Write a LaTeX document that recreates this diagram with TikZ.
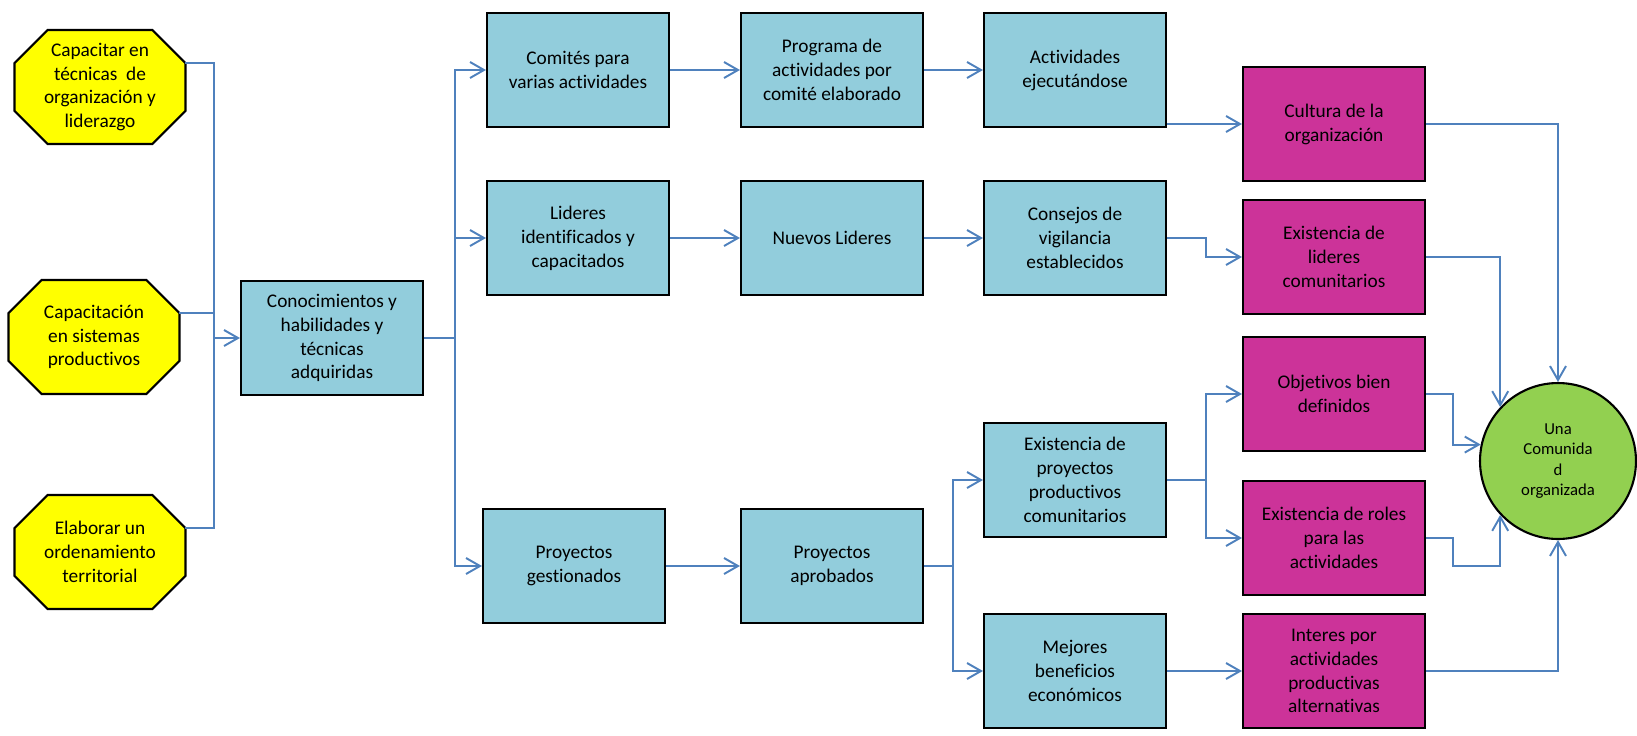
\documentclass[tikz,border=0pt]{standalone}
\usepackage{fontspec}
\setmainfont{Carlito}[Ligatures=NoCommon]
\usepackage{tikz}
\usetikzlibrary{shapes,arrows.meta,positioning,calc,backgrounds}

\definecolor{metayellow}{HTML}{FFFF00}
\definecolor{resblue}{HTML}{92CDDC}
\definecolor{effmagenta}{HTML}{CC3399}
\definecolor{goalgreen}{HTML}{92D050}
\definecolor{linkblue}{HTML}{4F81BD}

\tikzset{
    base/.style={draw=black, line width=1.2pt, align=center, inner sep=2pt,
        font=\fontsize{11}{13.6}\selectfont},
    activity/.style={align=center, inner sep=2pt, outer sep=0pt, minimum width=3.42cm,
        minimum height=2.28cm, font=\fontsize{11}{13.6}\selectfont},
    result/.style={base, rectangle, fill=resblue, minimum width=3.64cm, minimum height=2.28cm},
    effect/.style={result, fill=effmagenta},
    goal/.style={base, circle, fill=goalgreen, minimum size=3.12cm,
        font=\fontsize{9.5}{11.6}\selectfont},
    link/.style={draw=linkblue, line width=1.1pt},
    arr/.style={link, -{Straight Barb[length=2.8mm, width=3.2mm]}}
}

\begin{document}
\begin{tikzpicture}[x=0.02cm, y=-0.02cm]
    \useasboundingbox (0,0) rectangle (1637,735);

    % Activities
    \node[activity] (o1) at (100,87) {Capacitar en\\técnicas \ de\\organización y\\liderazgo};
    \node[activity] (o2) at (94,337) {Capacitación\\en sistemas\\productivos};
    \node[activity] (o3) at (100,552) {Elaborar un\\ordenamiento\\territorial};
    \begin{scope}[on background layer]
        \foreach \o in {o1,o2,o3}
            \draw[line width=1.2pt, fill=metayellow]
                ($(\o.north west)+(33,0)$) -- ($(\o.north east)+(-33,0)$) --
                ($(\o.north east)+(0,33)$) -- ($(\o.south east)+(0,-33)$) --
                ($(\o.south east)+(-33,0)$) -- ($(\o.south west)+(33,0)$) --
                ($(\o.south west)+(0,-33)$) -- ($(\o.north west)+(0,33)$) -- cycle;
    \end{scope}

    % Results
    \node[result] (con) at (332,338) {Conocimientos y\\habilidades y\\técnicas\\adquiridas};
    \node[result] (com) at (578,70) {Comités para\\varias actividades};
    \node[result] (prog) at (832,70) {Programa de\\actividades por\\comité elaborado};
    \node[result] (act) at (1075,70) {Actividades\\ejecutándose};
    \node[result] (lid) at (578,238) {Lideres\\identificados y\\capacitados};
    \node[result] (nue) at (832,238) {Nuevos Lideres};
    \node[result] (cons) at (1075,238) {Consejos de\\vigilancia\\establecidos};
    \node[result] (pges) at (574,566) {Proyectos\\gestionados};
    \node[result] (papr) at (832,566) {Proyectos\\aprobados};
    \node[result] (exp) at (1075,480) {Existencia de\\proyectos\\productivos\\comunitarios};
    \node[result] (mej) at (1075,671) {Mejores\\beneficios\\económicos};

    % Effects
    \node[effect] (cul) at (1334,124) {Cultura de la\\organización};
    \node[effect] (exl) at (1334,257) {Existencia de\\lideres\\comunitarios};
    \node[effect] (obj) at (1334,394) {Objetivos bien\\definidos};
    \node[effect] (rol) at (1334,538) {Existencia de roles\\para las\\actividades};
    \node[effect] (int) at (1334,671) {Interes por\\actividades\\productivas\\alternativas};

    % Goal
    \node[goal] (circ) at (1558,461) {Una\\Comunida\\d\\organizada};

    % Junctions
    \coordinate (j1) at (214,338);
    \coordinate (j2) at (455,338);
    \coordinate (j3) at (953,566);
    \coordinate (j4) at (1206,480);

    % Connectors
    \draw[link] ($(o1.east)+(0,-24)$) -| (j1);
    \draw[link] ($(o3.east)+(0,-24)$) -| (j1);
    \draw[arr] ($(o2.east)+(0,-24)$) -| (j1) -- (con);
    \draw[link] (con) -- (j2);
    \draw[arr] (j2) |- (com);
    \draw[arr] (j2) |- (lid);
    \draw[arr] (j2) |- (pges);
    \draw[arr] (com) -- (prog);
    \draw[arr] (prog) -- (act);
    \draw[arr] (act.east |- cul) -- (cul);
    \draw[arr] (lid) -- (nue);
    \draw[arr] (nue) -- (cons);
    \draw[arr] (cons.east) -- ++(39,0) |- (exl);
    \draw[arr] (pges) -- (papr);
    \draw[link] (papr) -- (j3);
    \draw[arr] (j3) |- (exp);
    \draw[arr] (j3) |- (mej);
    \draw[link] (exp) -- (j4);
    \draw[arr] (j4) |- (obj);
    \draw[arr] (j4) |- (rol);
    \draw[arr] (mej) -- (int);
    \draw[arr] (cul) -| (circ);
    \draw[arr] (exl) -| (circ.137);
    \draw[arr] (obj.east) -- ++(27,0) |- (circ.168);
    \draw[arr] (rol.east) -- ++(27,0) |- ($(circ.223)+(0,51)$) -- (circ.223);
    \draw[arr] (int) -| (circ);
\end{tikzpicture}
\end{document}
